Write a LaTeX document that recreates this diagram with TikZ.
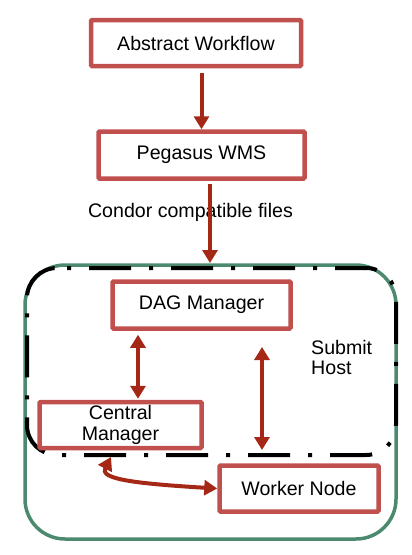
\documentclass[tikz,border=0pt]{standalone}
\usepackage{fontspec}
\setmainfont{Liberation Sans}
\usetikzlibrary{arrows.meta,calc}
\definecolor{boxred}{RGB}{192,80,77}
\definecolor{arrred}{RGB}{165,40,22}
\definecolor{hostgreen}{RGB}{75,138,110}
\tikzset{
  stepbox/.style={draw=boxred, line width=4.5pt, fill=white, rounded corners=1pt,
    inner sep=0pt, align=center, font=\fontsize{19.6}{21}\selectfont},
  flow/.style={draw=arrred, line width=4pt,
    -{Triangle[width=15pt,length=13pt]}},
  flowboth/.style={draw=arrred, line width=4pt,
    {Triangle[width=15pt,length=13pt]}-{Triangle[width=15pt,length=13pt]}},
  lbl/.style={inner sep=0pt, font=\fontsize{19.6}{21}\selectfont},
  hostbox/.style={draw=hostgreen, line width=3.5pt, rounded corners=40pt},
  submitbox/.style={draw=black, line width=4pt, rounded corners=30pt,
    dash pattern=on 42pt off 18pt on 4pt off 18pt, dash phase=50pt},
}
\begin{document}
\begin{tikzpicture}[x=1pt,y=-1pt]
\useasboundingbox (0,0) rectangle (412,555);
% containers
\draw[hostbox] (25,265) rectangle (396,539);
\draw[submitbox] (57,268) -- (396,268) -- (396,455) -- (27,455) -- (27,268) -- (57.5,268);
% boxes
\node[stepbox, minimum width=210pt, minimum height=46pt] (abs) at (196,43) {Abstract Workflow};
\node[stepbox, minimum width=206pt, minimum height=47pt] (peg) at (201.5,155) {Pegasus WMS};
\node[stepbox, minimum width=178pt, minimum height=47pt] (dag) at (201.5,305) {DAG Manager};
\node[stepbox, minimum width=162pt, minimum height=46pt] (cm) at (120.5,425) {Central\\Manager};
\node[stepbox, minimum width=159pt, minimum height=46pt] (wn) at (299,488.5) {Worker Node};
% labels
\node[lbl] (cond) at (190.5,212) {Condor compatible files};
\node[lbl, anchor=west, align=left, font=\fontsize{19.6}{20}\selectfont] (host) at (311,357) {Submit\\Host};
% helper coordinates
\coordinate (c2) at (210,263);
\coordinate (x1) at (138,0);
\coordinate (r1) at (262,347);
\coordinate (r2) at (262,450);
\coordinate (cmb) at (111,457);
% arrows
\draw[flow, shorten <=5pt] (abs.south -| peg.north) -- (peg.north);
\draw[flow, shorten <=3pt] (peg.south -| c2) -- (c2);
\draw[flowboth, shorten <=4pt, shorten >=1pt] (dag.south -| x1) -- (cm.north -| x1);
\draw[flowboth] (r1) -- (r2);
\draw[flowboth] (cmb) .. controls (100,478) and (125,483) .. (wn.west);
\end{tikzpicture}
\end{document}
